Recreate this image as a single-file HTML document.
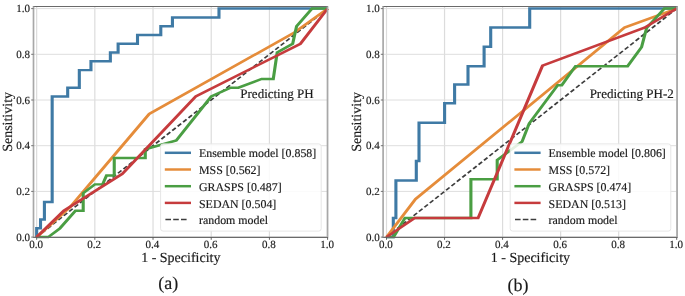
<!DOCTYPE html>
<html><head><meta charset="utf-8"><title>ROC curves</title>
<style>
html,body{margin:0;padding:0;background:#fff;}
body{width:685px;height:296px;overflow:hidden;}
svg{display:block;font-family:"Liberation Serif",serif;will-change:transform;}
text{fill:#1a1a1a;stroke:#1a1a1a;stroke-width:0.16px;text-rendering:geometricPrecision;}
</style></head><body>
<svg width="685" height="296" viewBox="0 0 685 296">
<rect x="0" y="0" width="685" height="296" fill="#fff"/>
<g>
<line x1="36.65" y1="6.5" x2="36.65" y2="237.3" stroke="#dcdcdc" stroke-width="1.2"/>
<line x1="33.5" y1="237.1" x2="327.5" y2="237.1" stroke="#dedede" stroke-width="1"/>
<line x1="94.84" y1="6.5" x2="94.84" y2="237.3" stroke="#dcdcdc" stroke-width="1.2"/>
<line x1="33.5" y1="191.4" x2="327.5" y2="191.4" stroke="#dedede" stroke-width="1"/>
<line x1="153.03" y1="6.5" x2="153.03" y2="237.3" stroke="#dcdcdc" stroke-width="1.2"/>
<line x1="33.5" y1="145.7" x2="327.5" y2="145.7" stroke="#dedede" stroke-width="1"/>
<line x1="211.22" y1="6.5" x2="211.22" y2="237.3" stroke="#dcdcdc" stroke-width="1.2"/>
<line x1="33.5" y1="100" x2="327.5" y2="100" stroke="#dedede" stroke-width="1"/>
<line x1="269.41" y1="6.5" x2="269.41" y2="237.3" stroke="#dcdcdc" stroke-width="1.2"/>
<line x1="33.5" y1="54.3" x2="327.5" y2="54.3" stroke="#dedede" stroke-width="1"/>
<line x1="327.6" y1="6.5" x2="327.6" y2="237.3" stroke="#dcdcdc" stroke-width="1.2"/>
<line x1="33.5" y1="8.6" x2="327.5" y2="8.6" stroke="#dedede" stroke-width="1"/>
<g transform="scale(1,0.8)">
<line x1="36.65" y1="296.38" x2="327.6" y2="10.75" stroke="#000" stroke-opacity="0.76" stroke-width="1.9" stroke-dasharray="4.9 2.7"/>
<polyline points="36.65,296.38 36.65,285.39 40.53,285.39 40.53,274.4 44.41,274.4 44.41,252.43 52.17,252.43 52.17,120.61 67.68,120.61 67.68,109.62 79.32,109.62 79.32,87.65 90.96,87.65 90.96,76.66 110.36,76.66 110.36,65.68 118.12,65.68 118.12,54.69 137.51,54.69 137.51,43.71 160.79,43.71 160.79,32.72 172.43,32.72 172.43,21.74 218.98,21.74 218.98,10.75 327.6,10.75" fill="none" stroke="#3f7aa5" stroke-width="3.1" stroke-linejoin="miter" stroke-miterlimit="4"/>
<polyline points="36.65,296.38 70.23,258.76 149.19,142.51 294.43,40.6 327.6,10.75" fill="none" stroke="#e58c3a" stroke-width="3.1" stroke-linejoin="miter" stroke-miterlimit="4"/>
<polyline points="36.65,296.38 48.29,296.38 59.93,285.39 75.44,263.42 83.2,263.42 83.2,241.45 94.84,230.46 102.6,230.46 106.48,219.48 114.24,219.48 114.24,197.5 145.27,197.5 145.27,186.52 176.31,175.53 211.22,120.61 230.62,109.62 238.38,109.62 261.65,98.63 273.29,98.63 277.17,65.68 292.69,54.69 296.57,32.72 312.08,10.75 327.6,10.75" fill="none" stroke="#4a9e43" stroke-width="3.1" stroke-linejoin="miter" stroke-miterlimit="4"/>
<polyline points="36.65,296.38 63.81,263.42 122.38,217.28 195.7,120.61 300.44,54.69 327.6,10.75" fill="none" stroke="#c63b3d" stroke-width="3.1" stroke-linejoin="miter" stroke-miterlimit="4"/>
</g>
<line x1="32.9" y1="6.5" x2="328.1" y2="6.5" stroke="#6a6a6a" stroke-width="1.2"/>
<line x1="32.9" y1="237.3" x2="328.1" y2="237.3" stroke="#6a6a6a" stroke-width="1.2"/>
<line x1="33.5" y1="6.5" x2="33.5" y2="237.3" stroke="#a8a8a8" stroke-width="1.7"/>
<line x1="327.5" y1="6.5" x2="327.5" y2="237.3" stroke="#a8a8a8" stroke-width="1.7"/>
<line x1="36.65" y1="237.3" x2="36.65" y2="239.8" stroke="#555" stroke-width="0.9"/>
<line x1="31.2" y1="237.1" x2="33.5" y2="237.1" stroke="#666" stroke-width="0.9"/>
<line x1="94.84" y1="237.3" x2="94.84" y2="239.8" stroke="#555" stroke-width="0.9"/>
<line x1="31.2" y1="191.4" x2="33.5" y2="191.4" stroke="#666" stroke-width="0.9"/>
<line x1="153.03" y1="237.3" x2="153.03" y2="239.8" stroke="#555" stroke-width="0.9"/>
<line x1="31.2" y1="145.7" x2="33.5" y2="145.7" stroke="#666" stroke-width="0.9"/>
<line x1="211.22" y1="237.3" x2="211.22" y2="239.8" stroke="#555" stroke-width="0.9"/>
<line x1="31.2" y1="100" x2="33.5" y2="100" stroke="#666" stroke-width="0.9"/>
<line x1="269.41" y1="237.3" x2="269.41" y2="239.8" stroke="#555" stroke-width="0.9"/>
<line x1="31.2" y1="54.3" x2="33.5" y2="54.3" stroke="#666" stroke-width="0.9"/>
<line x1="327.6" y1="237.3" x2="327.6" y2="239.8" stroke="#555" stroke-width="0.9"/>
<line x1="31.2" y1="8.6" x2="33.5" y2="8.6" stroke="#666" stroke-width="0.9"/>
<text x="36.05" y="248.2" font-size="11" text-anchor="middle">0.0</text>
<text x="30.1" y="240.8" font-size="11" text-anchor="end">0.0</text>
<text x="94.24" y="248.2" font-size="11" text-anchor="middle">0.2</text>
<text x="30.1" y="195.1" font-size="11" text-anchor="end">0.2</text>
<text x="152.43" y="248.2" font-size="11" text-anchor="middle">0.4</text>
<text x="30.1" y="149.4" font-size="11" text-anchor="end">0.4</text>
<text x="210.62" y="248.2" font-size="11" text-anchor="middle">0.6</text>
<text x="30.1" y="103.7" font-size="11" text-anchor="end">0.6</text>
<text x="268.81" y="248.2" font-size="11" text-anchor="middle">0.8</text>
<text x="30.1" y="58" font-size="11" text-anchor="end">0.8</text>
<text x="327" y="248.2" font-size="11" text-anchor="middle">1.0</text>
<text x="30.1" y="12.3" font-size="11" text-anchor="end">1.0</text>
<text x="180.8" y="262.2" font-size="14" text-anchor="middle">1 - Specificity</text>
<text transform="translate(11.8,121.9) rotate(-90)" font-size="14" text-anchor="middle">Sensitivity</text>
<text x="168.2" y="289.3" font-size="18" text-anchor="middle">(a)</text>
<text x="240.31" y="97.8" font-size="13">Predicting PH</text>
<rect x="160.6" y="143.9" width="160.6" height="87.2" rx="2.5" ry="2.5" fill="#fff" fill-opacity="0.85" stroke="#e6e6e6" stroke-width="1"/>
<line x1="164.8" y1="152.8" x2="191" y2="152.8" stroke="#3f7aa5" stroke-width="2.48"/>
<text x="199" y="157.4" font-size="11.9">Ensemble model [0.858]</text>
<line x1="164.8" y1="169.5" x2="191" y2="169.5" stroke="#e58c3a" stroke-width="2.48"/>
<text x="199" y="174.1" font-size="11.9">MSS [0.562]</text>
<line x1="164.8" y1="186.2" x2="191" y2="186.2" stroke="#4a9e43" stroke-width="2.48"/>
<text x="199" y="190.8" font-size="11.9">GRASPS [0.487]</text>
<line x1="164.8" y1="202.9" x2="191" y2="202.9" stroke="#c63b3d" stroke-width="2.48"/>
<text x="199" y="207.5" font-size="11.9">SEDAN [0.504]</text>
<line x1="165.4" y1="219.6" x2="188" y2="219.6" stroke="#000" stroke-opacity="0.76" stroke-width="1.52" stroke-dasharray="5.6 2.2"/>
<text x="199" y="224.2" font-size="11.9">random model</text>
</g>
<g>
<line x1="386.5" y1="6.5" x2="386.5" y2="237.3" stroke="#dcdcdc" stroke-width="1.2"/>
<line x1="383.1" y1="237.1" x2="677.1" y2="237.1" stroke="#dedede" stroke-width="1"/>
<line x1="444.54" y1="6.5" x2="444.54" y2="237.3" stroke="#dcdcdc" stroke-width="1.2"/>
<line x1="383.1" y1="191.4" x2="677.1" y2="191.4" stroke="#dedede" stroke-width="1"/>
<line x1="502.58" y1="6.5" x2="502.58" y2="237.3" stroke="#dcdcdc" stroke-width="1.2"/>
<line x1="383.1" y1="145.7" x2="677.1" y2="145.7" stroke="#dedede" stroke-width="1"/>
<line x1="560.62" y1="6.5" x2="560.62" y2="237.3" stroke="#dcdcdc" stroke-width="1.2"/>
<line x1="383.1" y1="100" x2="677.1" y2="100" stroke="#dedede" stroke-width="1"/>
<line x1="618.66" y1="6.5" x2="618.66" y2="237.3" stroke="#dcdcdc" stroke-width="1.2"/>
<line x1="383.1" y1="54.3" x2="677.1" y2="54.3" stroke="#dedede" stroke-width="1"/>
<line x1="676.7" y1="6.5" x2="676.7" y2="237.3" stroke="#dcdcdc" stroke-width="1.2"/>
<line x1="383.1" y1="8.6" x2="677.1" y2="8.6" stroke="#dedede" stroke-width="1"/>
<g transform="scale(1,0.8)">
<line x1="386.5" y1="296.38" x2="676.7" y2="10.75" stroke="#000" stroke-opacity="0.76" stroke-width="1.9" stroke-dasharray="4.9 2.7"/>
<polyline points="386.6,296.38 393.3,296.38 393.3,272.62 395.9,272.62 395.9,225.62 416.3,225.62 416.3,201.12 419,201.12 419,153.38 444.6,153.38 444.6,129.12 454.6,129.12 454.6,105.75 468,105.75 468,82.75 484.1,82.75 484.1,58.38 490.7,58.38 490.7,34.5 529.7,34.5 529.7,10.75 676.7,10.75" fill="none" stroke="#3f7aa5" stroke-width="3.1" stroke-linejoin="miter" stroke-miterlimit="4"/>
<polyline points="386.5,296.38 415.52,248.77 624.46,34.55 676.7,10.75" fill="none" stroke="#e58c3a" stroke-width="3.1" stroke-linejoin="miter" stroke-miterlimit="4"/>
<polyline points="386.6,296.38 393.6,296.38 405,272.38 470.9,272.38 470.9,224 497.2,224 497.2,200 522.1,177 529.2,154.25 557.7,106.5 561.8,106.5 575.5,82.75 627.6,82.75 641.6,58.75 646.6,35 664.4,10.75 676.7,10.75" fill="none" stroke="#4a9e43" stroke-width="3.1" stroke-linejoin="miter" stroke-miterlimit="4"/>
<polyline points="386.5,296.38 414.65,272.57 478.06,272.57 542.48,82.16 644.49,34.55 676.7,10.75" fill="none" stroke="#c63b3d" stroke-width="3.1" stroke-linejoin="miter" stroke-miterlimit="4"/>
</g>
<line x1="382.5" y1="6.5" x2="677.7" y2="6.5" stroke="#6a6a6a" stroke-width="1.2"/>
<line x1="382.5" y1="237.3" x2="677.7" y2="237.3" stroke="#6a6a6a" stroke-width="1.2"/>
<line x1="383.1" y1="6.5" x2="383.1" y2="237.3" stroke="#a8a8a8" stroke-width="1.7"/>
<line x1="677.1" y1="6.5" x2="677.1" y2="237.3" stroke="#a8a8a8" stroke-width="1.7"/>
<line x1="386.5" y1="237.3" x2="386.5" y2="239.8" stroke="#555" stroke-width="0.9"/>
<line x1="380.8" y1="237.1" x2="383.1" y2="237.1" stroke="#666" stroke-width="0.9"/>
<line x1="444.54" y1="237.3" x2="444.54" y2="239.8" stroke="#555" stroke-width="0.9"/>
<line x1="380.8" y1="191.4" x2="383.1" y2="191.4" stroke="#666" stroke-width="0.9"/>
<line x1="502.58" y1="237.3" x2="502.58" y2="239.8" stroke="#555" stroke-width="0.9"/>
<line x1="380.8" y1="145.7" x2="383.1" y2="145.7" stroke="#666" stroke-width="0.9"/>
<line x1="560.62" y1="237.3" x2="560.62" y2="239.8" stroke="#555" stroke-width="0.9"/>
<line x1="380.8" y1="100" x2="383.1" y2="100" stroke="#666" stroke-width="0.9"/>
<line x1="618.66" y1="237.3" x2="618.66" y2="239.8" stroke="#555" stroke-width="0.9"/>
<line x1="380.8" y1="54.3" x2="383.1" y2="54.3" stroke="#666" stroke-width="0.9"/>
<line x1="676.7" y1="237.3" x2="676.7" y2="239.8" stroke="#555" stroke-width="0.9"/>
<line x1="380.8" y1="8.6" x2="383.1" y2="8.6" stroke="#666" stroke-width="0.9"/>
<text x="385.9" y="248.2" font-size="11" text-anchor="middle">0.0</text>
<text x="379.7" y="240.8" font-size="11" text-anchor="end">0.0</text>
<text x="443.94" y="248.2" font-size="11" text-anchor="middle">0.2</text>
<text x="379.7" y="195.1" font-size="11" text-anchor="end">0.2</text>
<text x="501.98" y="248.2" font-size="11" text-anchor="middle">0.4</text>
<text x="379.7" y="149.4" font-size="11" text-anchor="end">0.4</text>
<text x="560.02" y="248.2" font-size="11" text-anchor="middle">0.6</text>
<text x="379.7" y="103.7" font-size="11" text-anchor="end">0.6</text>
<text x="618.06" y="248.2" font-size="11" text-anchor="middle">0.8</text>
<text x="379.7" y="58" font-size="11" text-anchor="end">0.8</text>
<text x="676.1" y="248.2" font-size="11" text-anchor="middle">1.0</text>
<text x="379.7" y="12.3" font-size="11" text-anchor="end">1.0</text>
<text x="530.4" y="262.2" font-size="14" text-anchor="middle">1 - Specificity</text>
<text transform="translate(361.4,121.9) rotate(-90)" font-size="14" text-anchor="middle">Sensitivity</text>
<text x="517.9" y="291" font-size="18" text-anchor="middle">(b)</text>
<text x="589.64" y="97.8" font-size="13">Predicting PH-2</text>
<rect x="510.2" y="143.9" width="160.6" height="87.2" rx="2.5" ry="2.5" fill="#fff" fill-opacity="0.85" stroke="#e6e6e6" stroke-width="1"/>
<line x1="514.4" y1="152.8" x2="540.6" y2="152.8" stroke="#3f7aa5" stroke-width="2.48"/>
<text x="548.6" y="157.4" font-size="11.9">Ensemble model [0.806]</text>
<line x1="514.4" y1="169.5" x2="540.6" y2="169.5" stroke="#e58c3a" stroke-width="2.48"/>
<text x="548.6" y="174.1" font-size="11.9">MSS [0.572]</text>
<line x1="514.4" y1="186.2" x2="540.6" y2="186.2" stroke="#4a9e43" stroke-width="2.48"/>
<text x="548.6" y="190.8" font-size="11.9">GRASPS [0.474]</text>
<line x1="514.4" y1="202.9" x2="540.6" y2="202.9" stroke="#c63b3d" stroke-width="2.48"/>
<text x="548.6" y="207.5" font-size="11.9">SEDAN [0.513]</text>
<line x1="515" y1="219.6" x2="537.6" y2="219.6" stroke="#000" stroke-opacity="0.76" stroke-width="1.52" stroke-dasharray="5.6 2.2"/>
<text x="548.6" y="224.2" font-size="11.9">random model</text>
</g>
</svg>
</body></html>
